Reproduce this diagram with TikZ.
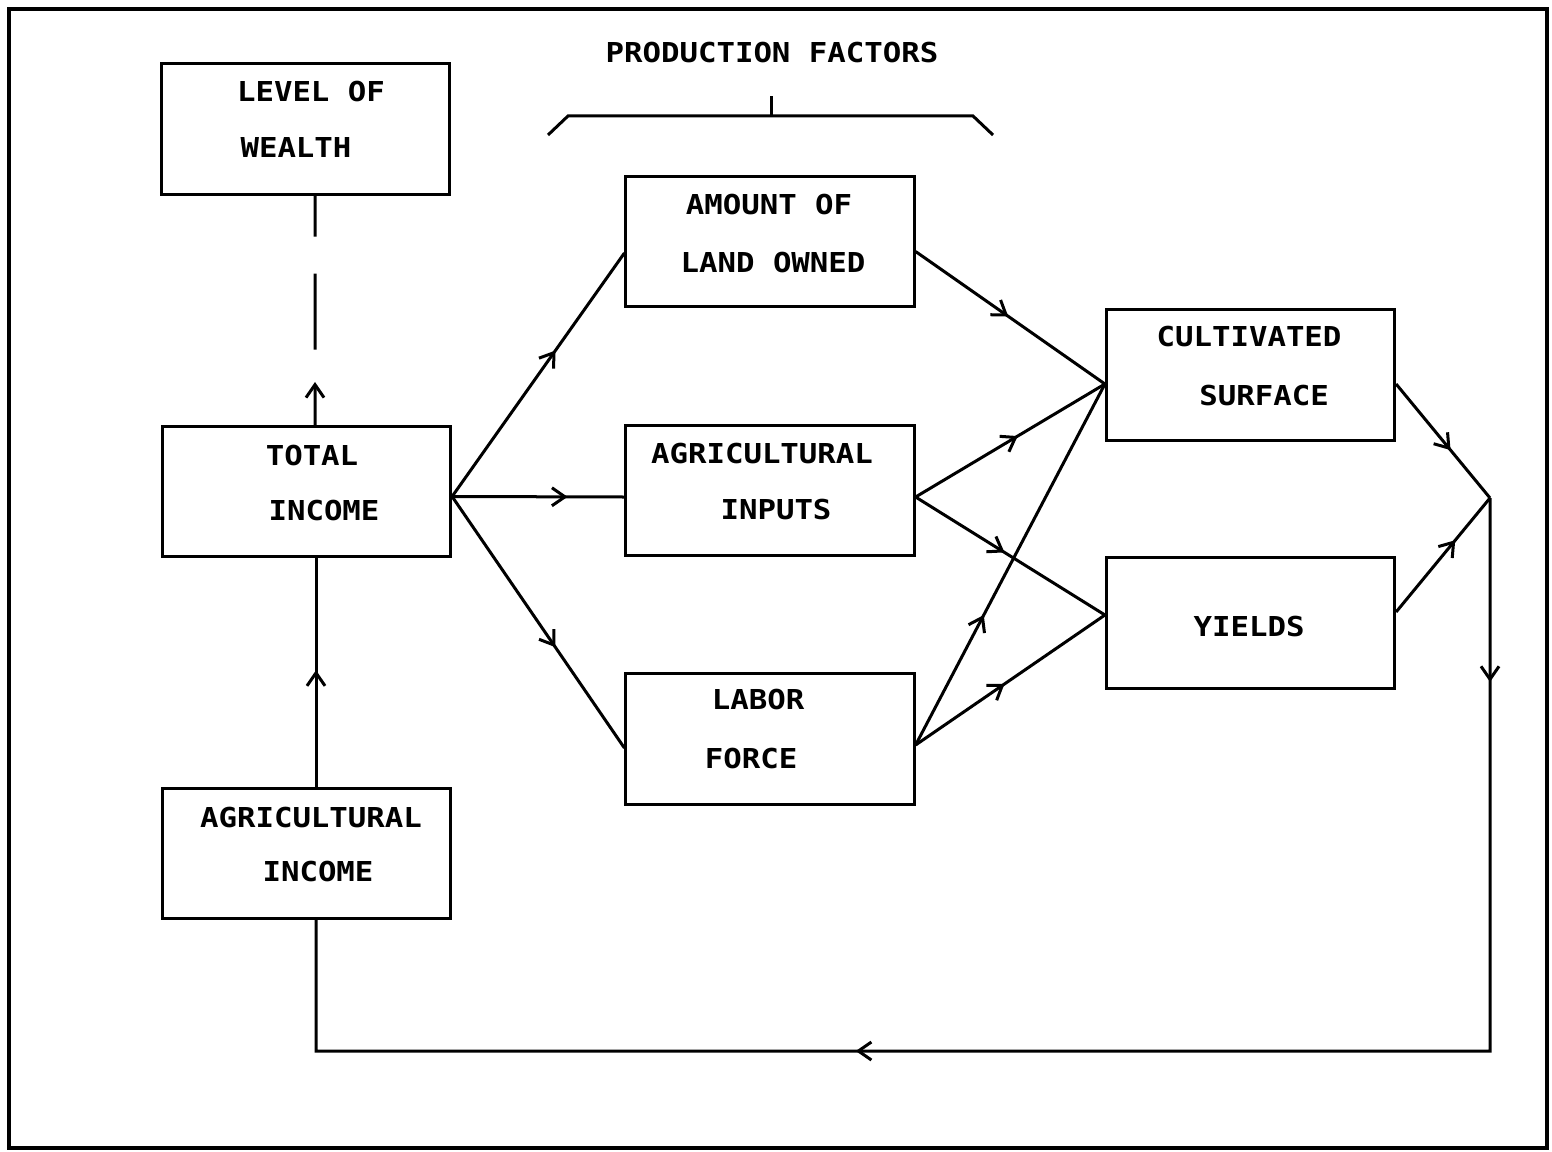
\documentclass[tikz,border=0pt]{standalone}
\usepackage{fontspec}
\newfontfamily\plotfont[FakeStretch=1.12]{DejaVu Sans Mono}
\usetikzlibrary{arrows.meta,decorations.markings}
\tikzstyle{box} = [draw, line width=0.03cm, minimum width=2.88cm, minimum height=1.3cm, inner sep=0pt]
\tikzstyle{txt} = [font=\plotfont\bfseries\fontsize{7.8}{9}\selectfont, inner sep=0pt]
\tikzstyle{flow} = [line width=0.03cm]
\tikzset{midarrow/.style={postaction=decorate, decoration={markings, mark=at position #1 with {\arrow{>}}}}}

\begin{document}
\begin{tikzpicture}[x=0.01cm, y=-0.01cm, >={Straight Barb[length=1.3mm,width=1.8mm]}]
    \useasboundingbox (0,0) rectangle (1552,1152);
    \draw [line width=0.035cm] (9,9) rectangle (1547,1148);
    % boxes
    \node [box] (wealth) at (305.5,129) {};
    \node [box] (total) at (306.5,491.5) {};
    \node [box] (agr) at (306.5,853.5) {};
    \node [box] (land) at (770,241.5) {};
    \node [box] (inputs) at (770,490.5) {};
    \node [box] (labor) at (770,739) {};
    \node [box] (cult) at (1250.5,375) {};
    \node [box] (yields) at (1250.5,623) {};
    % texts
    \node [txt] (title) at (772,53) {PRODUCTION FACTORS};
    \node [txt] (wealth1) at (311,92) {LEVEL OF};
    \node [txt] (wealth2) at (296,148) {WEALTH};
    \node [txt] (total1) at (312,456) {TOTAL};
    \node [txt] (total2) at (324,511) {INCOME};
    \node [txt] (agr1) at (311,818) {AGRICULTURAL};
    \node [txt] (agr2) at (318,872) {INCOME};
    \node [txt] (land1) at (769,205) {AMOUNT OF};
    \node [txt] (land2) at (773,263) {LAND OWNED};
    \node [txt] (inputs1) at (762,454) {AGRICULTURAL};
    \node [txt] (inputs2) at (776,510) {INPUTS};
    \node [txt] (labor1) at (758,700) {LABOR};
    \node [txt] (labor2) at (751,759) {FORCE};
    \node [txt] (cult1) at (1249,337) {CULTIVATED};
    \node [txt] (cult2) at (1264,396) {SURFACE};
    \node [txt] (yields1) at (1249,627) {YIELDS};
    % bracket
    \draw [flow] (548,135) -- (568,116) -- (973,116) -- (993,135);
    \draw [flow] (771,116) -- (771,96);
    % connectors
    \coordinate (uptip) at (315,382);
    \coordinate (join) at (1490,498);
    \coordinate (br) at (1490,1051);
    \coordinate (bl) at (316,1051);
    \draw [flow, dash pattern=on 0.41cm off 0.37cm on 0.76cm off 0.6cm] ([xshift=0.095cm]wealth.south) -- (uptip);
    \draw [flow, ->] ([xshift=0.085cm]total.north) -- (uptip);
    \draw [flow, midarrow=0.51] ([xshift=0.095cm]agr.north) -- ([xshift=0.095cm]total.south);
    \draw [flow, midarrow=0.6] ([yshift=-0.05cm]total.east) -- ([yshift=-0.115cm]land.west);
    \draw [flow, midarrow=0.67] ([yshift=-0.05cm]total.east) -- ([yshift=-0.065cm]inputs.west);
    \draw [flow, midarrow=0.6] ([yshift=-0.05cm]total.east) -- ([yshift=-0.09cm]labor.west);
    \draw [flow, midarrow=0.49] ([yshift=-0.1cm]land.east) -- ([yshift=-0.09cm]cult.west);
    \draw [flow, midarrow=0.54] ([yshift=-0.065cm]inputs.east) -- ([yshift=-0.09cm]cult.west);
    \draw [flow, midarrow=0.47] ([yshift=-0.065cm]inputs.east) -- ([yshift=0.08cm]yields.west);
    \draw [flow, midarrow=0.36] ([yshift=-0.06cm]labor.east) -- ([yshift=-0.09cm]cult.west);
    \draw [flow, midarrow=0.47] ([yshift=-0.06cm]labor.east) -- ([yshift=0.08cm]yields.west);
    \draw [flow, midarrow=0.58] ([yshift=-0.09cm]cult.east) -- (join);
    \draw [flow, midarrow=0.63] ([yshift=0.11cm]yields.east) -- (join);
    % feedback loop
    \draw [flow, postaction=decorate, decoration={markings,
        mark=at position 0.099 with {\arrow{>}},
        mark=at position 0.639 with {\arrow{>}}}]
        (join) -- (br) -- (bl) -- ([xshift=0.095cm]agr.south);
\end{tikzpicture}
\end{document}
